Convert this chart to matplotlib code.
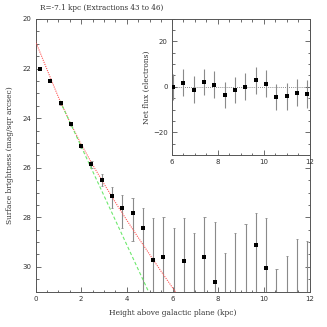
import numpy as np
import matplotlib
matplotlib.use("Agg")
import matplotlib.pyplot as plt
from matplotlib.ticker import MultipleLocator

# -----------------------------
# DATOS
# -----------------------------
height = [0.2, 0.65, 1.1, 1.55, 2.0, 2.45, 2.9, 3.35, 3.8, 4.25, 4.7, 5.15, 5.6,
          6.05, 6.5, 6.95, 7.4, 7.85, 8.3, 8.75, 9.2, 9.65, 10.1, 10.55, 11.0, 11.45, 11.9]
sb = [22.0, 22.5, 23.4, 24.24, 25.13, 25.87, 26.5, 27.14, 27.63, 27.84, 28.45, 29.71, 29.6,
      np.nan, 29.75, np.nan, 29.6, 30.6, np.nan, np.nan, np.nan, 29.1, 30.04, np.nan, np.nan, np.nan, np.nan]
# extremo brillante / extremo débil de cada barra de error (mag)
sb_bright = [21.97, 22.47, 23.35, 24.18, 25.05, 25.72, 26.27, 26.77, 27.12, 27.24, 27.61, 28.01, 28.0,
             28.42, 28.04, 28.65, 28.0, 28.17, 29.44, 28.65, 28.27, 27.83, 28.04, 30.1, 29.57, 28.89, 28.97]
sb_faint = [22.03, 22.53, 23.45, 24.30, 25.21, 26.03, 26.74, 27.61, 28.45, 28.95, 32, 32, 32,
            32, 32, 32, 32, 32, 32, 32, 32, 32, 32, 32, 32, 32, 32]

# modelo (rojo, punteado) y exponencial simple (verde, discontinua)
red_x = [0.0, 0.5, 1.0, 1.5, 2.0, 2.5, 3.0, 3.5, 4.0, 4.5, 5.0, 5.5, 6.0, 6.2]
red_y = [20.9, 22.03, 23.15, 24.15, 25.05, 25.88, 26.65, 27.4, 28.12, 28.82, 29.5, 30.18, 30.84, 31.1]
green_x = [1.07, 5.0]
green_y = [23.3, 31.1]

# recuadro: flujo neto
flux_x = [6.05, 6.5, 6.95, 7.4, 7.85, 8.3, 8.75, 9.2, 9.65, 10.1, 10.55, 11.0, 11.45, 11.9]
flux = [0.0, 1.9, -1.2, 2.1, 0.9, -3.6, -1.4, 0.1, 2.9, 1.3, -4.6, -4.1, -2.5, -3.2]
flux_err = [5.6, 5.8, 5.9, 5.8, 5.9, 5.9, 5.9, 6.0, 6.0, 6.0, 5.8, 6.0, 6.1, 6.0]

# -----------------------------
# ESTILO
# -----------------------------
plt.rcParams['font.family'] = ['DejaVu Serif']
plt.rcParams['font.size'] = 5
AXCOL = "#555555"
BARCOL = "#8a8a8a"


def style_axes(ax):
    for s in ax.spines.values():
        s.set_color(AXCOL)
        s.set_linewidth(0.7)
    ax.tick_params(which="both", direction="in", top=True, right=True,
                   color=AXCOL, width=0.6, labelsize=5, labelcolor="#333333",
                   labelfontfamily="DejaVu Sans")
    ax.tick_params(which="major", length=3.6, pad=3)
    ax.tick_params(which="minor", length=1.8)


fig = plt.figure(figsize=(3.27, 3.27), dpi=100)

# -----------------------------
# PANEL PRINCIPAL
# -----------------------------
ax = fig.add_axes([0.1086, 0.108, 0.838, 0.834])
h = np.array(height)
y = np.array(sb)
lo = np.array(sb_bright)
hi = np.array(sb_faint)
ax.vlines(h, lo, hi, color=BARCOL, lw=0.8, zorder=2)
ax.hlines(lo, h - 0.05, h + 0.05, color=BARCOL, lw=0.6, zorder=2)
ax.hlines(hi, h - 0.05, h + 0.05, color=BARCOL, lw=0.6, zorder=2)
ax.plot(red_x, red_y, color="#ff5555", lw=0.8, ls=(0, (1, 1)), zorder=3)
ax.plot(green_x, green_y, color="#6ee86e", lw=0.8, ls=(0, (3, 2)), zorder=3)
ax.plot(h, y, "s", color="black", ms=2.3, mew=0, zorder=4)

ax.set_xlim(0, 12)
ax.set_ylim(31, 20)
ax.xaxis.set_major_locator(MultipleLocator(2))
ax.xaxis.set_minor_locator(MultipleLocator(0.5))
ax.yaxis.set_major_locator(MultipleLocator(2))
ax.yaxis.set_minor_locator(MultipleLocator(0.5))
style_axes(ax)
ax.set_xlabel("Height above galactic plane (kpc)", fontsize=5.4, color="#333333", labelpad=5)
ax.set_ylabel("Surface brightness (mag/sqr arcsec)", fontsize=5.4, color="#333333", labelpad=6)

fig.text(40 / 327, 1 - 8 / 327, "R=-7.1 kpc (Extractions 43 to 46)", fontsize=5.25,
         color="#333333", ha="left", va="center")

# -----------------------------
# RECUADRO
# -----------------------------
ins = fig.add_axes([0.526, 0.526, 0.4205, 0.417])
ins.set_facecolor("white")
ins.axhline(0, color="#666666", lw=0.6, ls=(0, (1, 1.5)), zorder=1)
ins.errorbar(flux_x, flux, yerr=flux_err, fmt="s", color="black", ms=2.3, mew=0,
             ecolor=BARCOL, elinewidth=0.8, capsize=1.4, capthick=0.6, zorder=3)
ins.set_xlim(6, 12)
ins.set_ylim(-30, 30)
ins.xaxis.set_major_locator(MultipleLocator(2))
ins.xaxis.set_minor_locator(MultipleLocator(0.5))
ins.yaxis.set_major_locator(MultipleLocator(20))
ins.yaxis.set_minor_locator(MultipleLocator(5))
style_axes(ins)
ins.set_ylabel("Net flux (electrons)", fontsize=5.4, color="#333333", labelpad=1.5)

fig.savefig("out.png", dpi=100)
